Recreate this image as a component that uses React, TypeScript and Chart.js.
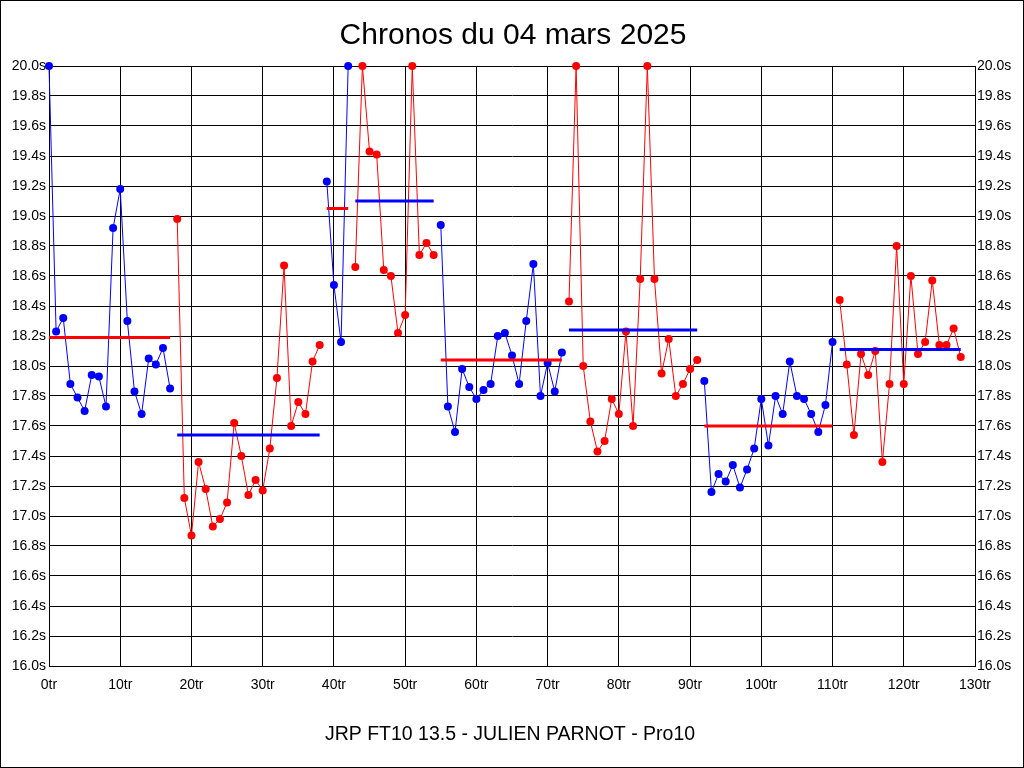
import React from 'react';
import { Chart, registerables } from 'chart.js';
Chart.register(...registerables);

// lap times (s), one array per stint
const stint1 = [20.0, 18.23, 18.32, 17.88, 17.79, 17.7, 17.94, 17.93, 17.73, 18.92, 19.18, 18.3, 17.83, 17.68, 18.05, 18.01, 18.12, 17.85];
const stint2 = [18.98, 17.12, 16.87, 17.36, 17.18, 16.93, 16.98, 17.09, 17.62, 17.4, 17.14, 17.24, 17.17, 17.45, 17.92, 18.67, 17.6, 17.76, 17.68, 18.03, 18.14];
const stint3 = [19.23, 18.54, 18.16, 20.0];
const stint4 = [18.66, 20.0, 19.43, 19.41, 18.64, 18.6, 18.22, 18.34, 20.0, 18.74, 18.82, 18.74];
const stint5 = [18.94, 17.73, 17.56, 17.98, 17.86, 17.78, 17.84, 17.88, 18.2, 18.22, 18.07, 17.88, 18.3, 18.68, 17.8, 18.02, 17.83, 18.09];
const stint6 = [18.43, 20.0, 18.0, 17.63, 17.43, 17.5, 17.78, 17.68, 18.23, 17.6, 18.58, 20.0, 18.58, 17.95, 18.18, 17.8, 17.88, 17.98, 18.04];
const stint7 = [17.9, 17.16, 17.28, 17.23, 17.34, 17.19, 17.31, 17.45, 17.78, 17.47, 17.8, 17.68, 18.03, 17.8, 17.78, 17.68, 17.56, 17.74, 18.16];
const stint8 = [18.44, 18.01, 17.54, 18.08, 17.94, 18.1, 17.36, 17.88, 18.8, 17.88, 18.6, 18.08, 18.16, 18.57, 18.14, 18.14, 18.25, 18.06];

const stints = [stint1, stint2, stint3, stint4, stint5, stint6, stint7, stint8];
const stintStart = [0, 18, 39, 43, 55, 73, 92, 111];
const stintMean = [18.19, 17.54, 19.05, 19.1, 18.04, 18.24, 17.6, 18.11];

const xTicks = [0, 10, 20, 30, 40, 50, 60, 70, 80, 90, 100, 110, 120, 130];

const BLUE = '#0000ff';
const RED = '#ff0000';

const titleText = 'Chronos du 04 mars 2025';
const footerText = 'JRP FT10 13.5 - JULIEN PARNOT - Pro10';

const FONT = '"Liberation Sans", Arial, sans-serif';

const decorPlugin = {
  id: 'decor',
  afterDraw(chart) {
    const ctx = chart.ctx;
    ctx.save();
    ctx.fillStyle = '#000';
    ctx.textAlign = 'center';
    ctx.textBaseline = 'alphabetic';
    ctx.font = `30px ${FONT}`;
    ctx.fillText(titleText, 513, 44);
    ctx.font = `19.5px ${FONT}`;
    ctx.fillText(footerText, 510, 740);
    ctx.strokeStyle = '#000';
    ctx.lineWidth = 1;
    ctx.strokeRect(0.5, 0.5, 1023, 767);
    ctx.restore();
  },
};

const App = () => {
  const canvasRef = React.useRef(null);
  const chartInstance = React.useRef(null);

  React.useEffect(() => {
    document.body.style.margin = '0';
    if (!canvasRef.current) return;
    if (chartInstance.current) chartInstance.current.destroy();

    const datasets = [];
    stints.forEach((vals, i) => {
      const color = i % 2 === 0 ? BLUE : RED;
      const start = stintStart[i];
      datasets.push({
        data: vals.map((y, k) => ({ x: start + k, y })),
        borderColor: color,
        backgroundColor: color,
        borderWidth: 1,
        pointRadius: 4,
        pointBorderWidth: 0,
        pointBackgroundColor: color,
        clip: false,
        order: 1,
      });
    });
    // mean line of each stint, drawn in the other colour
    stints.forEach((vals, i) => {
      const color = i % 2 === 0 ? RED : BLUE;
      const start = stintStart[i];
      datasets.push({
        data: [
          { x: start, y: stintMean[i] },
          { x: start + vals.length - 1, y: stintMean[i] },
        ],
        borderColor: color,
        borderWidth: 3,
        pointRadius: 0,
        clip: false,
        order: 0,
      });
    });

    chartInstance.current = new Chart(canvasRef.current, {
      type: 'line',
      data: { datasets },
      options: {
        animation: false,
        responsive: false,
        devicePixelRatio: 1,
        layout: { padding: { top: 66, left: 0, right: 0, bottom: 0 } },
        plugins: {
          legend: { display: false },
          tooltip: { enabled: false },
          title: { display: false },
        },
        scales: {
          x: {
            type: 'linear',
            min: 0,
            max: 130,
            afterBuildTicks: (s) => {
              s.ticks = xTicks.map((v) => ({ value: v }));
            },
            afterFit: (s) => {
              s.height = 102;
            },
            grid: { color: '#000', lineWidth: 1, drawTicks: false },
            border: { color: '#000', width: 1 },
            ticks: {
              color: '#000',
              font: { family: FONT, size: 14 },
              padding: 11,
              maxRotation: 0,
              autoSkip: false,
              callback: (v) => `${v}tr`,
            },
          },
          y: {
            position: 'left',
            min: 16,
            max: 20,
            afterFit: (s) => {
              s.width = 49;
            },
            grid: { color: '#000', lineWidth: 1, drawTicks: false },
            border: { color: '#000', width: 1 },
            ticks: {
              stepSize: 0.2,
              color: '#000',
              font: { family: FONT, size: 14 },
              padding: 3,
              autoSkip: false,
              callback: (v) => `${Number(v).toFixed(1)}s`,
            },
          },
          y2: {
            position: 'right',
            min: 16,
            max: 20,
            afterFit: (s) => {
              s.width = 49;
            },
            grid: { display: false, drawTicks: false },
            border: { color: '#000', width: 1 },
            ticks: {
              stepSize: 0.2,
              color: '#000',
              font: { family: FONT, size: 14 },
              padding: 2,
              autoSkip: false,
              callback: (v) => `${Number(v).toFixed(1)}s`,
            },
          },
        },
      },
      plugins: [decorPlugin],
    });

    return () => {
      if (chartInstance.current) {
        chartInstance.current.destroy();
        chartInstance.current = null;
      }
    };
  }, []);

  return (
    <div style={{ position: 'absolute', left: 0, top: 0, width: 1024, height: 768, background: '#fff' }}>
      <canvas ref={canvasRef} width={1024} height={768} />
    </div>
  );
};

export default App;
